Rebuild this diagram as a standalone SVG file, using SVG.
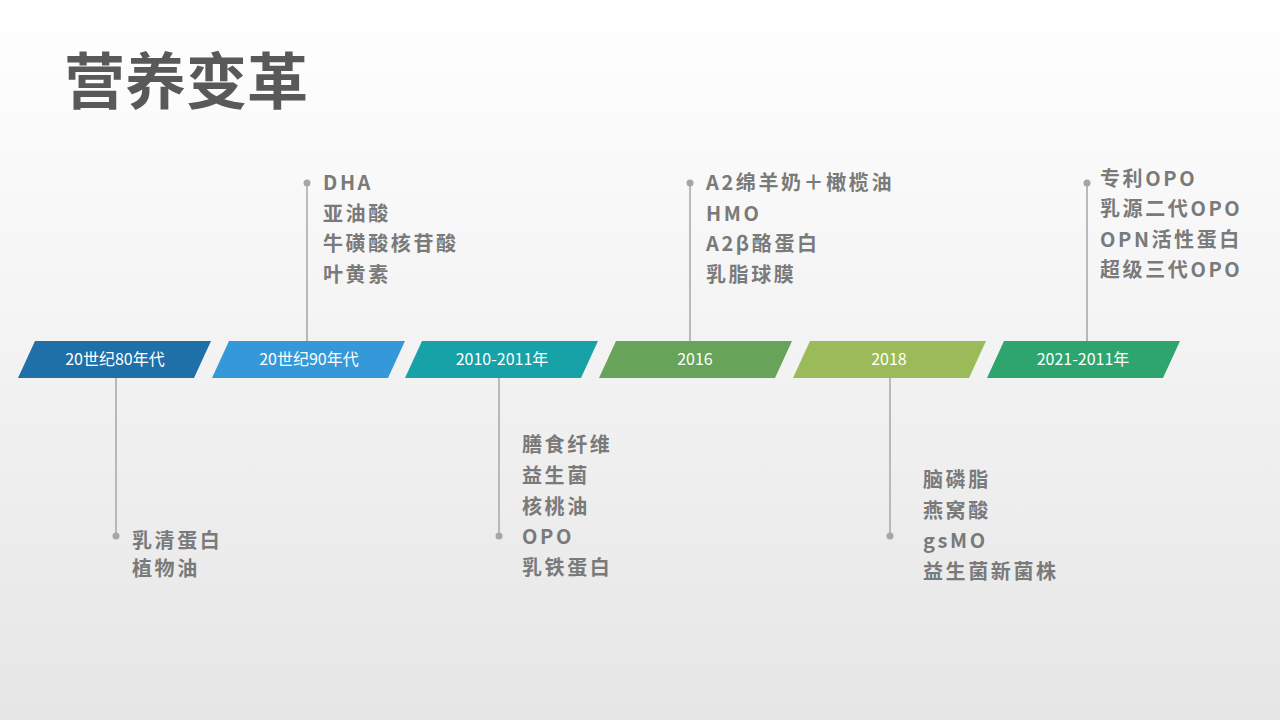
<svg xmlns="http://www.w3.org/2000/svg" width="1280" height="720" viewBox="0 0 1280 720">
<defs>
<linearGradient id="bg" x1="0" y1="0" x2="0" y2="1"><stop offset="0" stop-color="#ffffff"/><stop offset="1" stop-color="#e6e6e6"/></linearGradient>
<style>
.t{font-family:"Noto Sans CJK SC","Liberation Sans",sans-serif;font-weight:bold;font-size:20px;fill:#7a7a7a;letter-spacing:2.6px}
.l{font-family:"Noto Sans CJK SC","Liberation Sans",sans-serif;font-size:16px;fill:#ffffff;text-anchor:middle}
.s{stroke:#a6a6a6;stroke-width:1.5;fill:none}
.d{fill:#a6a6a6}
</style>
</defs>
<rect width="1280" height="720" fill="url(#bg)"/>
<text x="64" y="104" font-family="Noto Sans CJK SC,Liberation Sans,sans-serif" font-weight="bold" font-size="61" fill="#595959">营养变革</text>
<g id="connectors">
<line class="s" x1="116" y1="378" x2="116" y2="536"/><circle class="d" cx="116" cy="536" r="3.5"/>
<line class="s" x1="307" y1="341" x2="307" y2="183"/><circle class="d" cx="307" cy="183" r="3.5"/>
<line class="s" x1="499" y1="378" x2="499" y2="536"/><circle class="d" cx="499" cy="536" r="3.5"/>
<line class="s" x1="690" y1="341" x2="690" y2="183"/><circle class="d" cx="690" cy="183" r="3.5"/>
<line class="s" x1="890" y1="378" x2="890" y2="536"/><circle class="d" cx="890" cy="536" r="3.5"/>
<line class="s" x1="1087" y1="341" x2="1087" y2="183"/><circle class="d" cx="1087" cy="183" r="3.5"/>
</g>
<g id="n1"><polygon points="18,378 35,341 211,341 194,378" fill="#1f6fa8"/><text class="l" x="115" y="365">20世纪80年代</text>
<text class="t" x="132" y="548">乳清蛋白</text><text class="t" x="132" y="576">植物油</text></g>
<g id="n2"><polygon points="212,378 229,341 405,341 388,378" fill="#3598d8"/><text class="l" x="309" y="365">20世纪90年代</text>
<text class="t" x="323" y="190">DHA</text><text class="t" x="323" y="221">亚油酸</text><text class="t" x="323" y="251">牛磺酸核苷酸</text><text class="t" x="323" y="282">叶黄素</text></g>
<g id="n3"><polygon points="405,378 422,341 598,341 581,378" fill="#17a2a8"/><text class="l" x="502" y="365">2010-2011年</text>
<text class="t" x="522" y="452">膳食纤维</text><text class="t" x="522" y="483">益生菌</text><text class="t" x="522" y="514">核桃油</text><text class="t" x="522" y="544">OPO</text><text class="t" x="522" y="575">乳铁蛋白</text></g>
<g id="n4"><polygon points="599,378 616,341 792,341 775,378" fill="#68a35a"/><text class="l" x="695" y="365">2016</text>
<text class="t" x="706" y="190">A2绵羊奶＋橄榄油</text><text class="t" x="706" y="221">HMO</text><text class="t" x="706" y="251">A2β酪蛋白</text><text class="t" x="706" y="282">乳脂球膜</text></g>
<g id="n5"><polygon points="793,378 810,341 986,341 969,378" fill="#9bbb58"/><text class="l" x="889" y="365">2018</text>
<text class="t" x="923" y="487">脑磷脂</text><text class="t" x="923" y="518">燕窝酸</text><text class="t" x="923" y="548">gsMO</text><text class="t" x="923" y="579">益生菌新菌株</text></g>
<g id="n6"><polygon points="987,378 1004,341 1180,341 1163,378" fill="#2ea56f"/><text class="l" x="1083" y="365">2021-2011年</text>
<text class="t" x="1100" y="186">专利OPO</text><text class="t" x="1100" y="216">乳源二代OPO</text><text class="t" x="1100" y="247">OPN活性蛋白</text><text class="t" x="1100" y="277">超级三代OPO</text></g>
</svg>
